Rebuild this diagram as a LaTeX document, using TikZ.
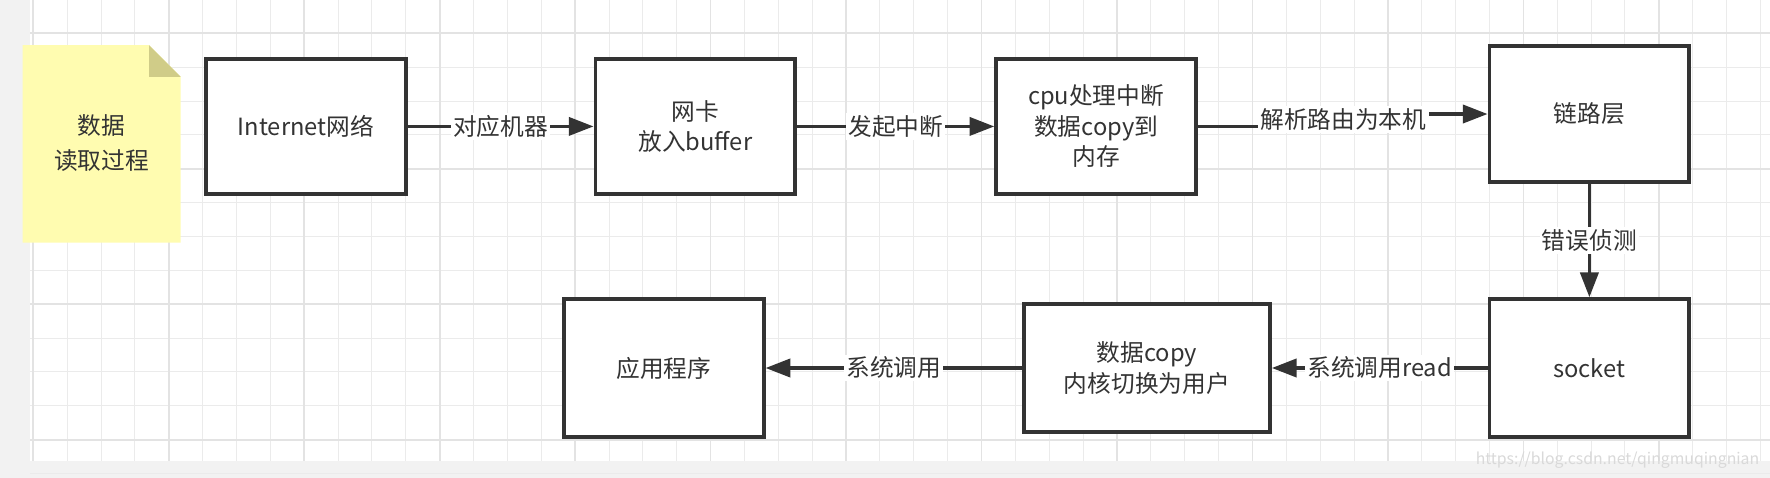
\documentclass[tikz,border=0pt]{standalone}
\usepackage{fontspec}
\setmainfont{Noto Sans CJK SC}
\usetikzlibrary{arrows.meta}
\definecolor{ln}{HTML}{333333}
\definecolor{note}{HTML}{FFFCB0}
\definecolor{fold}{HTML}{D0CC88}
\begin{document}
\begin{tikzpicture}[x=1pt,y=-1pt,
  box/.style={draw=ln,line width=3.3pt,fill=white,minimum width=177pt,minimum height=120pt,align=center,font=\fontsize{21}{27}\selectfont,text=ln,inner sep=0pt},
  conn/.style={draw=ln,line width=3.3pt,-{Triangle[length=22pt,width=16pt]}},
  lbl/.style={fill=white,font=\fontsize{21}{26}\selectfont,text=ln,inner sep=2pt}]
\useasboundingbox (0,0) rectangle (1568,423);
\fill[black!5] (0,0) rectangle (1568,423);
\fill[white] (27,0) rectangle (1568,408);
\foreach \i in {0,...,51}{\draw[black!8,line width=0.9pt] ({29.5+30*\i},0) -- ({29.5+30*\i},408);}
\foreach \i in {0,...,13}{\draw[black!8,line width=0.9pt] (27,{29.5+30*\i}) -- (1568,{29.5+30*\i});}
\foreach \i in {0,...,12}{\draw[black!11,line width=1.5pt] ({29.5+120*\i},0) -- ({29.5+120*\i},408);}
\foreach \i in {0,...,3}{\draw[black!11,line width=1.5pt] (27,{29.5+120*\i}) -- (1568,{29.5+120*\i});}
% note
\fill[note] (20,40) -- (132,40) -- (160,68) -- (160,215) -- (20,215) -- cycle;
\fill[fold] (132,40) -- (160,68) -- (132,68) -- cycle;
\node[font=\fontsize{21}{31}\selectfont,text=ln,align=center] (nt) at (90,127) {数据\\读取过程};
% boxes
\node[box] (inet) at (271,112) {Internet网络};
\node[box] (nic) at (616,112) {网卡\\放入buffer};
\node[box] (cpu) at (971,112) {cpu处理中断\\数据copy到\\内存};
\node[box] (link) at (1408,101) {链路层};
\node[box,minimum height=122pt] (sock) at (1408,326) {socket};
\node[box,minimum width=218pt,minimum height=113pt] (copy) at (1016,326) {数据copy\\内核切换为用户};
\node[box,minimum height=122pt] (app) at (588,326) {应用程序};
% connectors
\draw[conn] (inet) -- node[lbl]{对应机器} (nic);
\draw[conn] (nic) -- node[lbl]{发起中断} (cpu);
\coordinate (m1) at (1190,106);
\draw[conn] (cpu.east) -- (m1 |- cpu.east) -- (m1 |- link.west) -- (link.west);
\node[lbl] at (m1) {解析路由为本机};
\draw[conn] (link) -- node[lbl]{错误侦测} (sock);
\draw[conn] (sock) -- node[lbl]{系统调用read} (copy);
\draw[conn] (copy) -- node[lbl]{系统调用} (app);
\node[text=black!15,font=\fontsize{14}{14}\selectfont,anchor=east] (wm) at (1562,408) {https://blog.csdn.net/qingmuqingnian};
\end{tikzpicture}
\end{document}
